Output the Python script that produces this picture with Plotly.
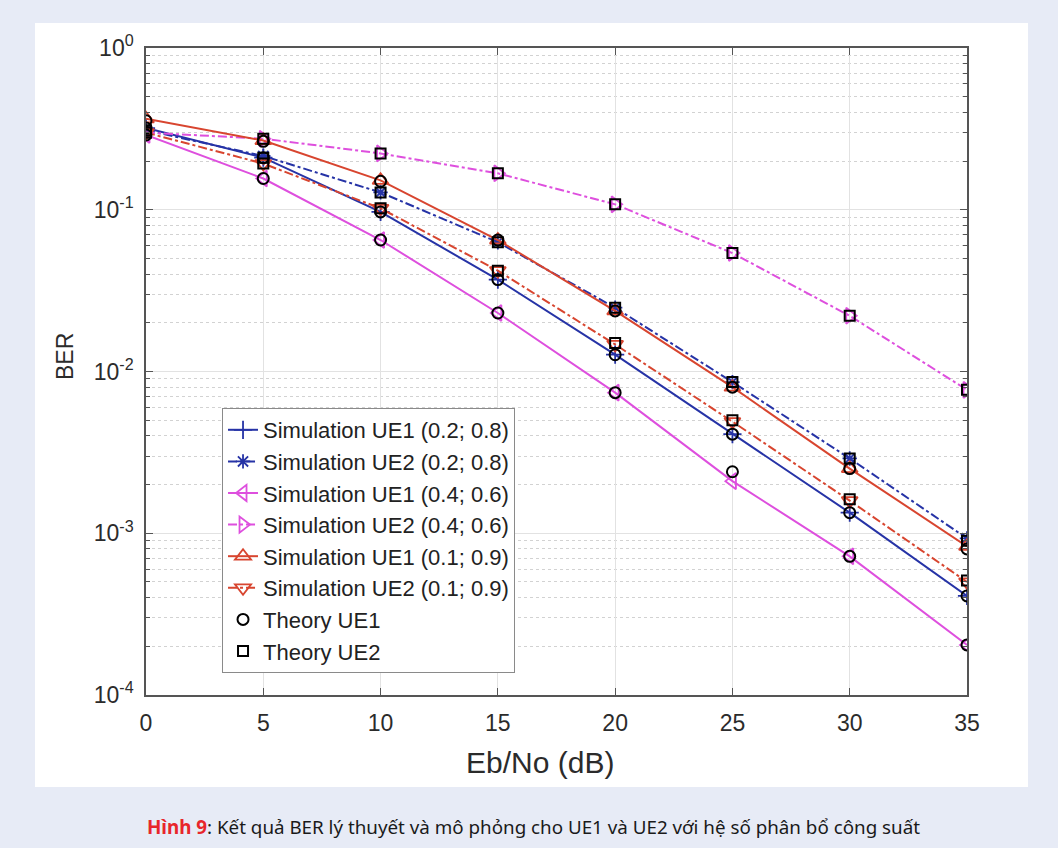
import plotly.graph_objects as go

snr = [0, 5, 10, 15, 20, 25, 30, 35]

sim_ue1_02 = [0.32, 0.21, 0.097, 0.037, 0.0127, 0.0041, 0.00134, 0.00041]
sim_ue2_02 = [0.31, 0.215, 0.128, 0.063, 0.0248, 0.0086, 0.0029, 0.00093]
sim_ue1_04 = [0.29, 0.156, 0.065, 0.023, 0.0074, 0.0021, 0.00072, 0.000204]
sim_ue2_04 = [0.30, 0.275, 0.223, 0.168, 0.108, 0.054, 0.0221, 0.0077]
sim_ue1_01 = [0.365, 0.268, 0.152, 0.065, 0.0237, 0.0080, 0.00251, 0.00083]
sim_ue2_01 = [0.30, 0.193, 0.102, 0.042, 0.0147, 0.0049, 0.00159, 0.00050]

th_ue1_02 = [0.32, 0.21, 0.097, 0.037, 0.0127, 0.0041, 0.00134, 0.00041]
th_ue1_04 = [0.29, 0.156, 0.065, 0.023, 0.0074, 0.0024, 0.00072, 0.000204]
th_ue1_01 = [0.355, 0.265, 0.150, 0.065, 0.0237, 0.0080, 0.00251, 0.00080]
th_ue2_02 = [0.31, 0.21, 0.128, 0.063, 0.0248, 0.0086, 0.0029, 0.00090]
th_ue2_04 = [0.30, 0.275, 0.223, 0.168, 0.108, 0.054, 0.0221, 0.0077]
th_ue2_01 = [0.30, 0.193, 0.102, 0.042, 0.0150, 0.0050, 0.00162, 0.00051]

names = [
    "Simulation UE1 (0.2; 0.8)",
    "Simulation UE2 (0.2; 0.8)",
    "Simulation UE1 (0.4; 0.6)",
    "Simulation UE2 (0.4; 0.6)",
    "Simulation UE1 (0.1; 0.9)",
    "Simulation UE2 (0.1; 0.9)",
    "Theory UE1",
    "Theory UE2",
]

yticks = [1e-4, 1e-3, 1e-2, 1e-1, 1]
yticktext = ["10<sup>-4</sup>", "10<sup>-3</sup>", "10<sup>-2</sup>", "10<sup>-1</sup>", "10<sup>0</sup>"]

caption_bold = "Hình 9"
caption_rest = ": Kết quả BER lý thuyết và mô phỏng cho UE1 và UE2 với hệ số phân bổ công suất"

BLUE = "#2633a6"
MAG = "#de4fde"
RED = "#d8452f"

fig = go.Figure()

styles = [
    (sim_ue1_02, BLUE, "solid", "cross-thin-open", 13),
    (sim_ue2_02, BLUE, "dashdot", "asterisk-open", 12),
    (sim_ue1_04, MAG, "solid", "triangle-left-open", 14),
    (sim_ue2_04, MAG, "dashdot", "triangle-right-open", 14),
    (sim_ue1_01, RED, "solid", "triangle-up-open", 14),
    (sim_ue2_01, RED, "dashdot", "triangle-down-open", 14),
]

for i, (vals, col, dash, sym, sz) in enumerate(styles):
    fig.add_trace(go.Scatter(
        x=snr, y=vals, name=names[i], mode="lines+markers",
        line=dict(color=col, width=2, dash=dash),
        marker=dict(symbol=sym, size=sz, color=col, line=dict(color=col, width=1.8)),
        legendgroup="g%d" % i,
    ))

fig.add_trace(go.Scatter(
    x=snr * 3, y=th_ue1_02 + th_ue1_04 + th_ue1_01, name=names[6], mode="markers",
    marker=dict(symbol="circle-open", size=11, color="black", line=dict(color="black", width=2)),
    legendgroup="g6",
))
fig.add_trace(go.Scatter(
    x=snr * 3, y=th_ue2_02 + th_ue2_04 + th_ue2_01, name=names[7], mode="markers",
    marker=dict(symbol="square-open", size=10, color="black", line=dict(color="black", width=2)),
    legendgroup="g7",
))

AX = "#555555"
FAM = "Arial, Liberation Sans, sans-serif"
TF = dict(family=FAM, size=23, color="#2b2b2b")

fig.update_layout(
    width=1058, height=848,
    margin=dict(l=146, r=91, t=48, b=153),
    paper_bgcolor="#e7ebf6",
    plot_bgcolor="white",
    showlegend=True,
    legend=dict(
        x=0.0926, y=0.4436, xanchor="left", yanchor="top",
        bgcolor="white", bordercolor="#8a8a8a", borderwidth=1,
        font=dict(family=FAM, size=22, color="#222222"),
        tracegroupgap=0, traceorder="grouped",
    ),
    xaxis=dict(
        range=[0, 35], tickvals=snr, ticks="inside", ticklen=7, tickcolor=AX,
        showline=True, linecolor=AX, linewidth=1.5, mirror="ticks",
        showgrid=True, gridcolor="#e2e2e2", gridwidth=1, zeroline=False,
        tickfont=TF, ticklabelstandoff=7,
    ),
    yaxis=dict(
        type="log", range=[-4, 0], tickvals=yticks, ticktext=yticktext,
        ticks="inside", ticklen=7, tickcolor=AX,
        showline=True, linecolor=AX, linewidth=1.5, mirror="ticks",
        showgrid=True, gridcolor="#e2e2e2", gridwidth=1, zeroline=False,
        tickfont=TF, ticklabelstandoff=6,
        minor=dict(ticks="inside", ticklen=4, tickcolor=AX, showgrid=True,
                   gridcolor="#d2d2d2", griddash="dot", gridwidth=1,
                   tickvals=[m * 10 ** e for e in range(-4, 0) for m in range(2, 10)]),
    ),
    shapes=[dict(type="rect", xref="paper", yref="paper", layer="below",
                 x0=(35 - 146) / 821, x1=(1028 - 146) / 821,
                 y0=(695 - 787) / 647, y1=(695 - 23) / 647,
                 fillcolor="white", line=dict(width=0))],
    annotations=[
        dict(text="Eb/No (dB)", xref="paper", yref="paper", x=(540 - 146) / 821, y=(695 - 762) / 647,
             xanchor="center", yanchor="middle", showarrow=False,
             font=dict(family=FAM, size=30, color="#2b2b2b")),
        dict(text="BER", xref="paper", yref="paper", x=(65 - 146) / 821, y=(695 - 357) / 647,
             xanchor="center", yanchor="middle", showarrow=False, textangle=-90,
             font=dict(family=FAM, size=23, color="#2b2b2b")),
        dict(text="<b><span style='color:#e8262b'>" + caption_bold + "</span></b>" + caption_rest,
             xref="paper", yref="paper", x=(533 - 146) / 821, y=(695 - 827) / 647,
             xanchor="center", yanchor="middle", showarrow=False,
             font=dict(family="Noto Sans, Open Sans, sans-serif", size=18.8, color="#1a1a1a")),
    ],
)

fig.write_html("out.html", config={"displayModeBar": False},
               post_script="document.body.style.margin='0';")
